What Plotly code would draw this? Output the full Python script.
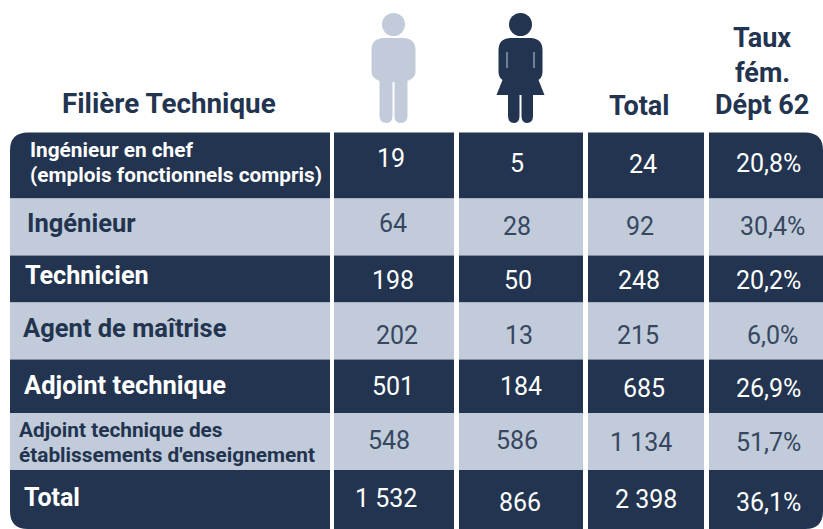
import plotly.graph_objects as go

row_labels = [["Ingénieur en chef", "(emplois fonctionnels compris)"], ["Ingénieur"], ["Technicien"], ["Agent de maîtrise"],
              ["Adjoint technique"], ["Adjoint technique des", "établissements d'enseignement"], ["Total"]]
hommes = ["19", "64", "198", "202", "501", "548", "1 532"]
femmes = ["5", "28", "50", "13", "184", "586", "866"]
totaux = ["24", "92", "248", "215", "685", "1 134", "2 398"]
taux = ["20,8%", "30,4%", "20,2%", "6,0%", "26,9%", "51,7%", "36,1%"]

DARK = "#22344f"
LIGHT = "#c1cbda"
MUTED = "#36475f"
FONT = "Roboto"

col_edges = [(10, 330), (334, 454), (459, 583), (588, 704), (709, 823)]
row_edges = [132.5, 198.5, 255.5, 302.5, 359.5, 413, 470, 529]
lab_x = [28, 24.5, 22.5, 20.5, 21.5, 17, 21.5]
lab_y = [[150, 175], [223], [275], [328], [385], [430, 455], [497]]
lab_size = [20.8, 25.5, 25.2, 25.5, 25.5, 20.8, 25]
val_x = [[391, 517, 643, 768], [393, 517, 640, 772], [393, 518, 639, 768], [397, 519, 638, 772],
         [393, 521, 644, 768], [389, 517, 641, 768], [386, 520, 646, 768]]
val_y = [[158, 163, 164, 163], [223, 226, 226, 226], [280, 280, 280, 280], [335, 335, 335, 335],
         [386, 386, 388, 388], [440, 440, 442, 442], [498, 502, 499, 502]]

shapes, ann = [], []
R = 18
for r in range(7):
    y0, y1 = row_edges[r], row_edges[r + 1]
    c = LIGHT if r % 2 else DARK
    for i, (x0, x1) in enumerate(col_edges):
        if r == 0 and i == 0:
            p = f"M{x0},{y1} L{x0},{y0+R} Q{x0},{y0} {x0+R},{y0} L{x1},{y0} L{x1},{y1} Z"
        elif r == 0 and i == 4:
            p = f"M{x0},{y0} L{x1-R},{y0} Q{x1},{y0} {x1},{y0+R} L{x1},{y1} L{x0},{y1} Z"
        elif r == 6 and i == 0:
            p = f"M{x0},{y0} L{x1},{y0} L{x1},{y1} L{x0+R},{y1} Q{x0},{y1} {x0},{y1-R} Z"
        elif r == 6 and i == 4:
            p = f"M{x0},{y0} L{x1},{y0} L{x1},{y1-R} Q{x1},{y1} {x1-R},{y1} L{x0},{y1} Z"
        else:
            p = f"M{x0},{y0} L{x1},{y0} L{x1},{y1} L{x0},{y1} Z"
        shapes.append(dict(type="path", path=p, fillcolor=c, line_width=0, layer="below"))
    lc = DARK if r % 2 else "white"
    tc = MUTED if r % 2 else "white"
    for line, ly in zip(row_labels[r], lab_y[r]):
        ann.append(dict(x=lab_x[r], y=ly, text=f"<b>{line}</b>", xanchor="left",
                        font=dict(size=lab_size[r], color=lc, family=FONT)))
    for j, col in enumerate([hommes, femmes, totaux, taux]):
        ann.append(dict(x=val_x[r][j], y=val_y[r][j], text=col[r], font=dict(size=25, color=tc, family=FONT)))

for txt, hx, hy, hs in [("Filière Technique", 169, 103, 27.8), ("Total", 639, 106, 27), ("Taux", 762, 38, 27),
                        ("fém.", 762, 73, 27), ("Dépt 62", 762, 105, 27)]:
    ann.append(dict(x=hx, y=hy, text=f"<b>{txt}</b>", font=dict(size=hs, color=DARK, family=FONT)))


def person(cx, color, woman):
    s = [dict(type="circle", x0=cx - 11.5, x1=cx + 11.5, y0=13, y1=36, fillcolor=color, line_width=0)]
    if woman:
        body = (f"M{cx-22},{50} Q{cx-22},{39} {cx-11},{38} L{cx+11},{38} Q{cx+22},{39} {cx+22},{50} L{cx+22},{72} "
                f"Q{cx+22},{77} {cx+18},{80} L{cx+24},{95} L{cx+12.5},{95} L{cx+12.5},{116} Q{cx+12.5},{123} {cx+6.5},{123} "
                f"Q{cx+1},{123} {cx+1},{116} L{cx+1},{95} L{cx-1},{95} L{cx-1},{116} Q{cx-1},{123} {cx-6.5},{123} "
                f"Q{cx-12.5},{123} {cx-12.5},{116} L{cx-12.5},{95} L{cx-24},{95} L{cx-18},{80} Q{cx-22},{77} {cx-22},{72} Z")
    else:
        body = (f"M{cx-22},{50} Q{cx-22},{39} {cx-11},{38} L{cx+11},{38} Q{cx+22},{39} {cx+22},{50} L{cx+22},{72} "
                f"Q{cx+22},{78} {cx+14},{81} L{cx+14},{116} Q{cx+14},{123} {cx+7},{123} Q{cx+1},{123} {cx+1},{116} "
                f"L{cx+1},{82} L{cx-1},{82} L{cx-1},{116} Q{cx-1},{123} {cx-7},{123} Q{cx-14},{123} {cx-14},{116} "
                f"L{cx-14},{81} Q{cx-22},{78} {cx-22},{72} Z")
    s.append(dict(type="path", path=body, fillcolor=color, line_width=0))
    if woman:
        for dx in (-13.5, 13.5):
            s.append(dict(type="line", x0=cx + dx, x1=cx + dx, y0=52, y1=68, line=dict(color=LIGHT, width=1)))
    return s


shapes += person(393.5, LIGHT, False)
shapes += person(520.5, DARK, True)

for a in ann:
    a.update(xref="x", yref="y", showarrow=False)
    a.setdefault("xanchor", "center")

fig = go.Figure()
fig.update_layout(width=823, height=529, margin=dict(l=0, r=0, t=0, b=0), paper_bgcolor="white", plot_bgcolor="white",
                  xaxis=dict(range=[0, 823], visible=False, fixedrange=True),
                  yaxis=dict(range=[529, 0], visible=False, fixedrange=True),
                  shapes=shapes, annotations=ann, showlegend=False)
fig.write_html("out.html", config=dict(displayModeBar=False),
               post_script="document.body.style.margin='0';document.body.style.overflow='hidden';")
